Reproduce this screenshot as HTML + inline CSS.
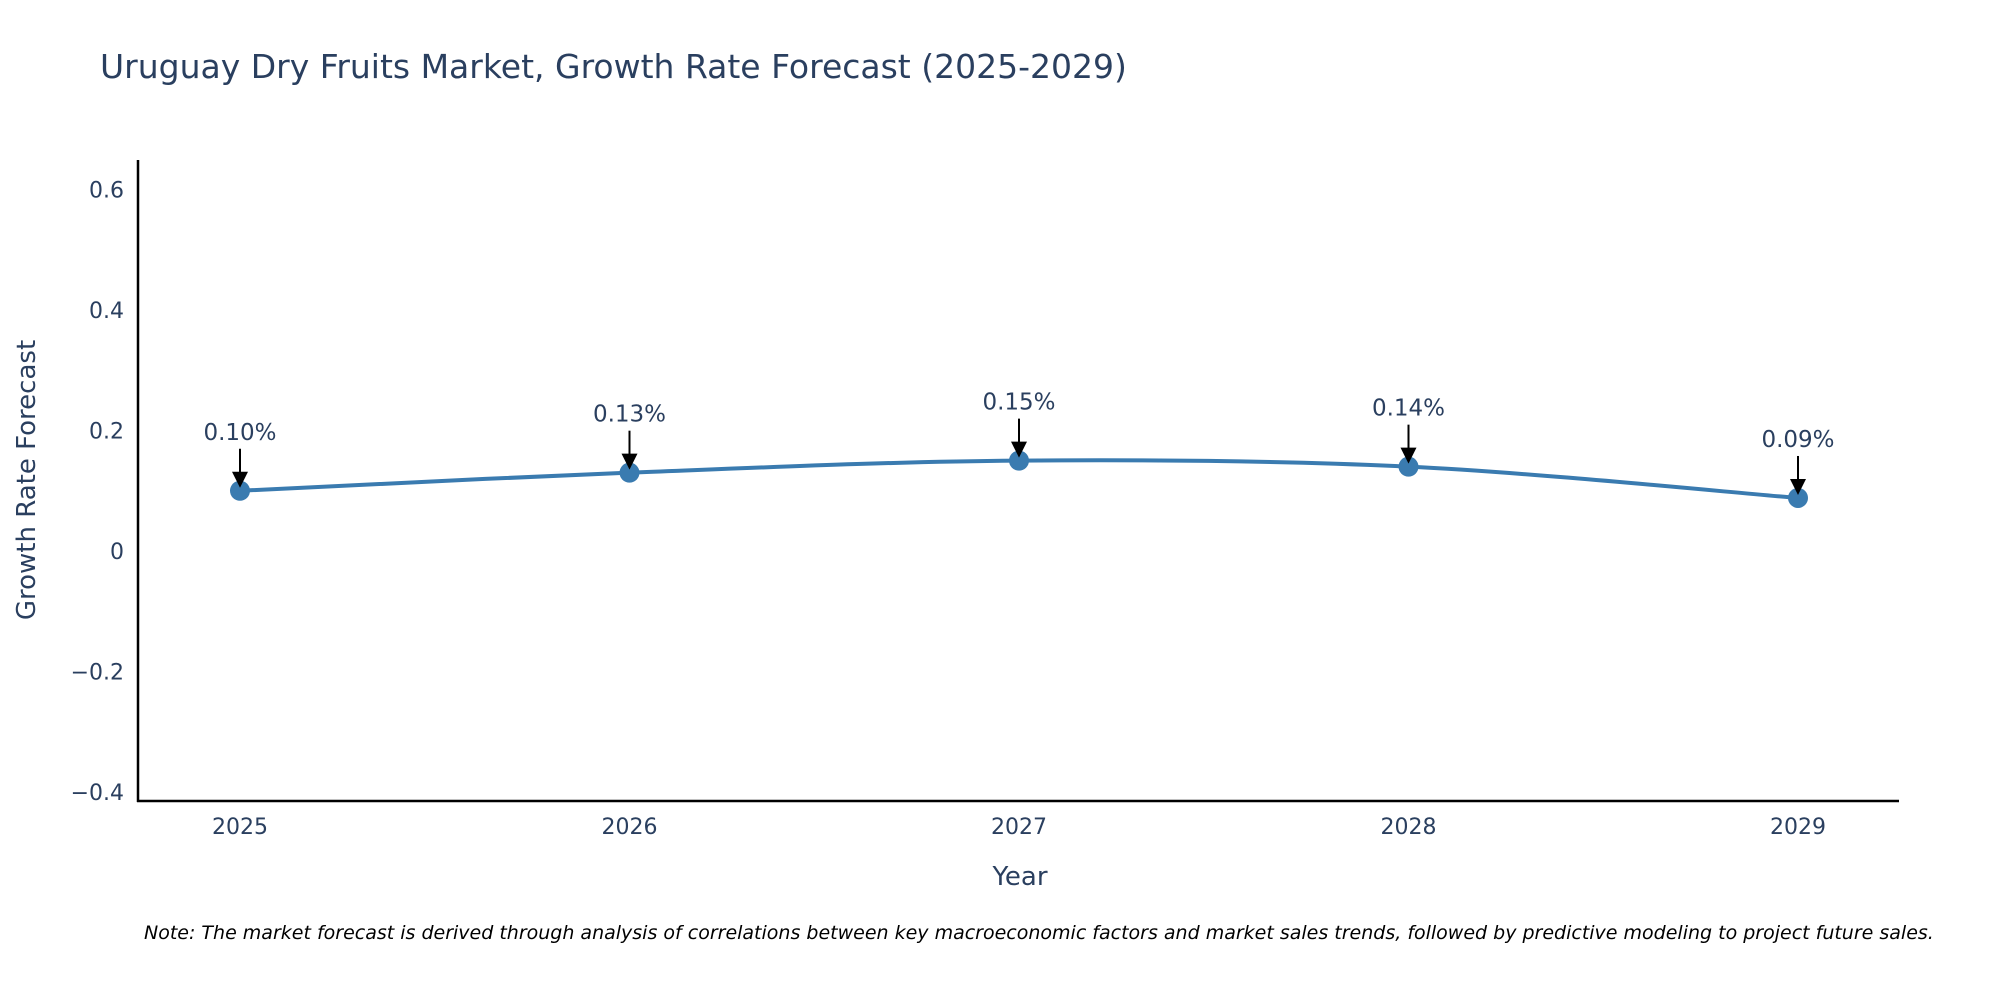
<!DOCTYPE html>
<html><head><meta charset="utf-8"><style>
body{margin:0;background:#fff;}
svg{display:block;font-family:"DejaVu Sans","Liberation Sans",sans-serif;}
</style></head><body>
<svg id="chart" width="2000" height="1000">
<text x="100" y="78" font-size="33" fill="#2a3f5f">Uruguay Dry Fruits Market, Growth Rate Forecast (2025-2029)</text>
<g id="yticks"></g><g id="xticks"></g>
<line x1="138" y1="160" x2="138" y2="802" stroke="#000" stroke-width="2.5"/>
<line x1="137" y1="801" x2="1899" y2="801" stroke="#000" stroke-width="2.5"/>
<path id="line" fill="none" stroke="#3a7bb0" stroke-width="4"/>
<g id="marks"></g>
<text x="1020" y="885" font-size="26" fill="#2a3f5f" text-anchor="middle">Year</text>
<text transform="translate(35,480) rotate(-90)" font-size="26" fill="#2a3f5f" text-anchor="middle">Growth Rate Forecast</text>
<text x="144" y="939" font-size="19" font-style="italic" fill="#000">Note: The market forecast is derived through analysis of correlations between key macroeconomic factors and market sales trends, followed by predictive modeling to project future sales.</text>
</svg>
<script>
const years=["2025","2026","2027","2028","2029"];
const values=[0.10,0.13,0.15,0.14,0.088];
const labels=["0.10%","0.13%","0.15%","0.14%","0.09%"];
const yTicks=[0.6,0.4,0.2,0,-0.2,-0.4];
const yTickLabels=["0.6","0.4","0.2","0","\u22120.2","\u22120.4"];
const NS="http://www.w3.org/2000/svg";
const xs=i=>240+i*389.5;
const ys=v=>551-v*602.5;
function mk(t,a,p){const e=document.createElementNS(NS,t);for(const k in a)e.setAttribute(k,a[k]);p.appendChild(e);return e;}
const yt=document.getElementById('yticks');
yTicks.forEach((v,i)=>{const t=mk('text',{x:124,y:ys(v)+8,'font-size':22,fill:'#2a3f5f','text-anchor':'end'},yt);t.textContent=yTickLabels[i];

});
const xt=document.getElementById('xticks');
years.forEach((y,i)=>{const t=mk('text',{x:xs(i),y:834,'font-size':22,fill:'#2a3f5f','text-anchor':'middle'},xt);t.textContent=y;

});
const P=values.map((v,i)=>[xs(i),ys(v)]);
let d=`M${P[0][0]},${P[0][1]}`;
for(let i=0;i<P.length-1;i++){const p0=P[Math.max(i-1,0)],p1=P[i],p2=P[i+1],p3=P[Math.min(i+2,P.length-1)];
d+=` C${p1[0]+(p2[0]-p0[0])/6},${p1[1]+(p2[1]-p0[1])/6} ${p2[0]-(p3[0]-p1[0])/6},${p2[1]-(p3[1]-p1[1])/6} ${p2[0]},${p2[1]}`;}
document.getElementById('line').setAttribute('d',d);
const m=document.getElementById('marks');
P.forEach((p,i)=>{const c=mk('circle',{cx:p[0],cy:p[1],r:10,fill:'#3a7bb0'},m);


const l=mk('line',{x1:p[0],y1:p[1]-42,x2:p[0],y2:p[1]-16,stroke:'#000','stroke-width':2},m);


const h=mk('polygon',{points:`${p[0]-8},${p[1]-19} ${p[0]+8},${p[1]-19} ${p[0]},${p[1]-3}`,fill:'#000'},m);


const t=mk('text',{x:p[0],y:p[1]-51,'font-size':23,fill:'#2a3f5f','text-anchor':'middle'},m);t.textContent=labels[i];

});
</script>
</body></html>
